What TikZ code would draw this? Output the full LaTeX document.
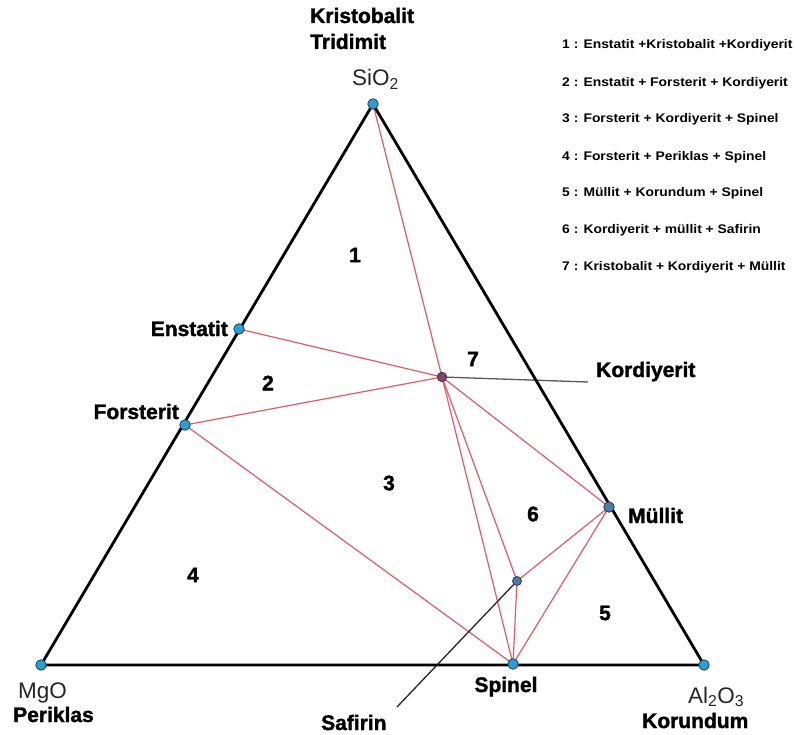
\documentclass[tikz,border=0pt]{standalone}
\usepackage{fontspec}
\usepackage{graphicx}
\setmainfont{Liberation Sans}
\newfontfamily\heavyfont[FakeBold=1.6]{Liberation Sans Bold}
\definecolor{dotblue}{HTML}{2A9FD6}
\definecolor{dotedge}{HTML}{1E3F5A}
\definecolor{redline}{HTML}{E25A64}
\definecolor{purpdot}{HTML}{8A3F6E}
\begin{document}
\begin{tikzpicture}[x=1pt,y=-1pt,
  tri/.style={line width=2.8pt,black,line join=round},
  tie/.style={line width=1.2pt,redline},
  lead/.style={line width=1.3pt,black!65},
  pt/.style={circle,draw=dotedge,line width=0.8pt,fill=dotblue,minimum size=10.5pt,inner sep=0pt},
  mpt/.style={pt,fill=purpdot,minimum size=9.5pt},
  lab/.style={font=\fontsize{21}{23}\heavyfont,inner sep=0pt},
  chem/.style={font=\fontsize{22.5}{25}\selectfont,inner sep=0pt,text=black!85},
  num/.style={font=\fontsize{21}{23}\heavyfont,inner sep=0pt},
  leg/.style={font=\fontsize{12.5}{14}\selectfont\bfseries,inner sep=0pt,anchor=base west}]
\useasboundingbox[fill=white] (0,0) rectangle (795,735);
% vertices and phases
\coordinate (S) at (373,104);
\coordinate (M) at (41,665);
\coordinate (A) at (704,665);
\coordinate (E) at (239,329);
\coordinate (F) at (185,425);
\coordinate (K) at (442,377);
\coordinate (U) at (609,507);
\coordinate (P) at (513,664);
\coordinate (Q) at (517,581);
\coordinate (Kend) at (588,382);
\coordinate (Qend) at (397,707);
% tie lines
\draw[tie] (S) -- (K);
\draw[tie] (E) -- (K);
\draw[tie] (F) -- (K);
\draw[tie] (F) -- (P);
\draw[tie] (K) -- (U);
\draw[tie] (K) -- (P);
\draw[tie] (K) -- (Q);
\draw[tie] (Q) -- (U);
\draw[tie] (Q) -- (P);
\draw[tie] (U) -- (P);
% leader lines
\draw[lead] (K) -- (Kend);
\draw[lead,black!85] (Q) -- (Qend);
% triangle
\draw[tri] (S) -- (M) -- (A) -- cycle;
% dots
\node[pt] (nS) at (S) {};
\node[pt] (nM) at (M) {};
\node[pt] (nA) at (A) {};
\node[pt] (nE) at (E) {};
\node[pt] (nF) at (F) {};
\node[pt] (nP) at (P) {};
\node[pt,fill=dotblue!60!purpdot] (nU) at (U) {};
\node[mpt,minimum size=9pt,fill=dotblue!55!purpdot] (nQ) at (Q) {};
\node[mpt] (nK) at (K) {};
% labels
\node[lab,anchor=base west] (kris) at (310,23) {Kristobalit};
\node[lab,anchor=base west] (trid) at (310,49) {Tridimit};
\node[chem,anchor=base west] (sio) at (352,86) {SiO\textsubscript{2}};
\node[lab,anchor=base east] (lE) at (228,336) {Enstatit};
\node[lab,anchor=base east] (lF) at (179,419) {Forsterit};
\node[lab,anchor=base west] (lK) at (596,377) {Kordiyerit};
\node[lab,anchor=base west] (lU) at (628,523) {Müllit};
\node[lab,anchor=base] (lP) at (506,692) {Spinel};
\node[lab,anchor=base west] (lQ) at (321,730) {Safirin};
\node[chem,anchor=base west] (mgo) at (18,698) {MgO};
\node[lab,anchor=base west] (per) at (13,722) {Periklas};
\node[chem,anchor=base west] (alo) at (688,703) {Al\textsubscript{2}O\textsubscript{3}};
\node[lab,anchor=base west] (kor) at (642,728) {Korundum};
% field numbers
\node[num] (f1) at (355,255) {1};
\node[num] (f2) at (268,383) {2};
\node[num] (f3) at (389,483) {3};
\node[num] (f4) at (193,575) {4};
\node[num] (f5) at (605,613) {5};
\node[num] (f6) at (533,514) {6};
\node[num] (f7) at (473,359) {7};
% legend
\node[leg] (g1) at (562,49) {\scalebox{1.11}[1]{1 : Enstatit +Kristobalit +Kordiyerit}};
\node[leg] (g2) at (562,87) {\scalebox{1.11}[1]{2 : Enstatit + Forsterit + Kordiyerit}};
\node[leg] (g3) at (562,123) {\scalebox{1.11}[1]{3 : Forsterit + Kordiyerit + Spinel}};
\node[leg] (g4) at (562,161) {\scalebox{1.11}[1]{4 : Forsterit + Periklas + Spinel}};
\node[leg] (g5) at (562,197) {\scalebox{1.11}[1]{5 : Müllit + Korundum + Spinel}};
\node[leg] (g6) at (562,234) {\scalebox{1.11}[1]{6 : Kordiyerit + müllit + Safirin}};
\node[leg] (g7) at (562,271) {\scalebox{1.11}[1]{7 : Kristobalit + Kordiyerit + Müllit}};
\end{tikzpicture}
\end{document}
